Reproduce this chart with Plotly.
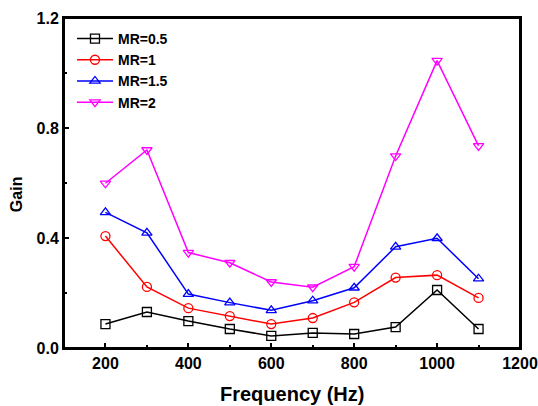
import plotly.graph_objects as go

freq = [200, 300, 400, 500, 600, 700, 800, 900, 1000, 1100]
mr05 = [0.087, 0.131, 0.098, 0.069, 0.044, 0.055, 0.051, 0.076, 0.211, 0.069]
mr1 = [0.407, 0.222, 0.145, 0.116, 0.087, 0.109, 0.166, 0.256, 0.265, 0.182]
mr15 = [0.493, 0.419, 0.196, 0.165, 0.137, 0.172, 0.219, 0.368, 0.399, 0.252]
mr2 = [0.599, 0.720, 0.347, 0.310, 0.240, 0.221, 0.296, 0.698, 1.045, 0.735]

series = [
    ("MR=0.5", mr05, "black", "square-open"),
    ("MR=1", mr1, "red", "circle-open"),
    ("MR=1.5", mr15, "blue", "triangle-up-open"),
    ("MR=2", mr2, "magenta", "triangle-down-open"),
]

fig = go.Figure()
for name, vals, col, sym in series:
    fig.add_trace(go.Scatter(
        x=freq, y=vals, name=name, mode="lines+markers",
        line=dict(color=col, width=1.5),
        marker=dict(symbol=sym, size=9, color=col, line=dict(width=1.3, color=col)),
    ))

font_family = "Liberation Sans, Arial, sans-serif"
fig.update_layout(
    width=538, height=406,
    margin=dict(l=64, r=18, t=18, b=58),
    paper_bgcolor="white", plot_bgcolor="white",
    font=dict(family=font_family, color="black"),
    legend=dict(x=0.0175, y=0.985, xanchor="left", yanchor="top",
                bgcolor="rgba(0,0,0,0)", font=dict(size=14, family=font_family, weight="bold"),
                tracegroupgap=0, itemwidth=36),
    showlegend=True,
    shapes=[dict(type="rect", xref="paper", yref="paper", x0=0, y0=0, x1=1, y1=1,
                 line=dict(color="black", width=2), fillcolor="rgba(0,0,0,0)", layer="above")],
    annotations=[
        dict(text="Frequency (Hz)", xref="paper", yref="paper", x=0.5, y=-0.139,
             xanchor="center", yanchor="middle", showarrow=False,
             font=dict(size=20, family=font_family, weight="bold")),
        dict(text="Gain", xref="paper", yref="paper", x=-0.104, y=0.465,
             xanchor="center", yanchor="middle", showarrow=False, textangle=-90,
             font=dict(size=16, family=font_family, weight="bold")),
    ],
)
fig.update_xaxes(
    range=[100, 1200], tickmode="array", tickvals=[200, 400, 600, 800, 1000, 1200],
    ticks="inside", ticklen=5, tickwidth=1.5, tickcolor="black",
    minor=dict(tickvals=[300, 500, 700, 900, 1100], ticks="inside", ticklen=3, tickcolor="black", tickwidth=1.5),
    showline=True, linecolor="black", linewidth=2, mirror=True,
    showgrid=False, zeroline=False, automargin=False,
    tickfont=dict(size=16, family=font_family, weight="bold"),
)
fig.update_yaxes(
    range=[0, 1.2], tickmode="array", tickvals=[0, 0.4, 0.8, 1.2],
    ticktext=["0.0", "0.4", "0.8", "1.2"],
    ticks="inside", ticklen=5, tickwidth=1.5, tickcolor="black",
    minor=dict(tickvals=[0.2, 0.6, 1.0], ticks="inside", ticklen=3, tickcolor="black", tickwidth=1.5),
    showline=True, linecolor="black", linewidth=2, mirror=True,
    showgrid=False, zeroline=False, automargin=False,
    tickfont=dict(size=16, family=font_family, weight="bold"),
)

fig.write_html("out.html", config={"displayModeBar": False},
               post_script="document.body.style.margin='0px';document.body.style.overflow='hidden';")
